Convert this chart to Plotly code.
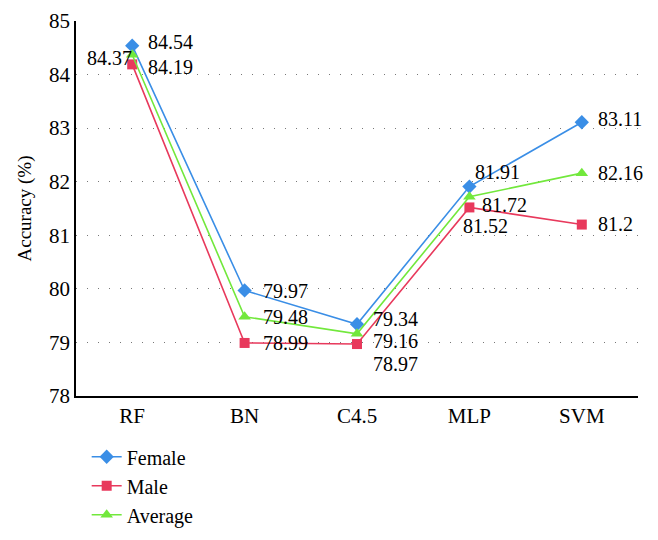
import plotly.graph_objects as go

categories = ["RF", "BN", "C4.5", "MLP", "SVM"]
female = [84.54, 79.97, 79.34, 81.91, 83.11]
male = [84.19, 78.99, 78.97, 81.52, 81.2]
average = [84.37, 79.48, 79.16, 81.72, 82.16]
y_ticks = [78, 79, 80, 81, 82, 83, 84, 85]

series = [
    ("Female", female, "#3a8ee6", "diamond", 11),
    ("Male", male, "#e8395c", "square", 10),
    ("Average", average, "#72e83c", "triangle-up", 11),
]

# label offsets (xanchor, xshift, yshift) per series per point
label_style = {
    "Female": [("left", 14, 4), ("left", 16, -1), ("left", 14, 5), ("left", 4, 15), ("left", 14, 3)],
    "Male": [("left", 14, -3), ("left", 16, 0), ("left", 14, -20), ("left", -8, -19), ("left", 14, 1)],
    "Average": [("right", 2, -3), ("left", 16, 0), ("left", 14, -7), ("left", 11, -8), ("left", 14, 0)],
}

FONT = "Liberation Serif, Times New Roman, serif"
fig = go.Figure()
annotations = []
for name, vals, color, sym, size in series:
    fig.add_trace(go.Scatter(
        x=categories, y=vals, name=name, mode="lines+markers",
        line=dict(color=color, width=1.6),
        marker=dict(symbol=sym, size=size, color=color),
    ))
    for i, (c, v) in enumerate(zip(categories, vals)):
        xa, xs, ys = label_style[name][i]
        annotations.append(dict(
            x=c, y=v, text=f"{v:g}", showarrow=False, xanchor=xa, yanchor="middle",
            xshift=xs, yshift=ys, font=dict(family=FONT, size=20, color="black"),
        ))

fig.update_layout(
    width=658, height=540,
    margin=dict(l=68, r=28, t=13, b=152, autoexpand=False),
    plot_bgcolor="white", paper_bgcolor="white",
    font=dict(family=FONT, size=21, color="black"),
    annotations=annotations,
    showlegend=True,
    legend=dict(x=0.019, y=-0.11, xanchor="left", yanchor="top",
                font=dict(family=FONT, size=20), bgcolor="rgba(0,0,0,0)",
                itemwidth=30, tracegroupgap=0),
    xaxis=dict(range=[-0.5, 4.5], showline=True, linecolor="black", linewidth=1.5,
               showgrid=False, ticks="", tickfont=dict(family=FONT, size=21), zeroline=False),
    yaxis=dict(range=[78, 85], tickvals=y_ticks, showline=True, linecolor="black",
               linewidth=1.5, showgrid=True, gridcolor="#777777", griddash="1px,10px",
               gridwidth=1, ticks="", tickfont=dict(family=FONT, size=21), zeroline=False,
               title=dict(text="Accuracy (%)", font=dict(family=FONT, size=19), standoff=12)),
)

fig.write_html("out.html")
